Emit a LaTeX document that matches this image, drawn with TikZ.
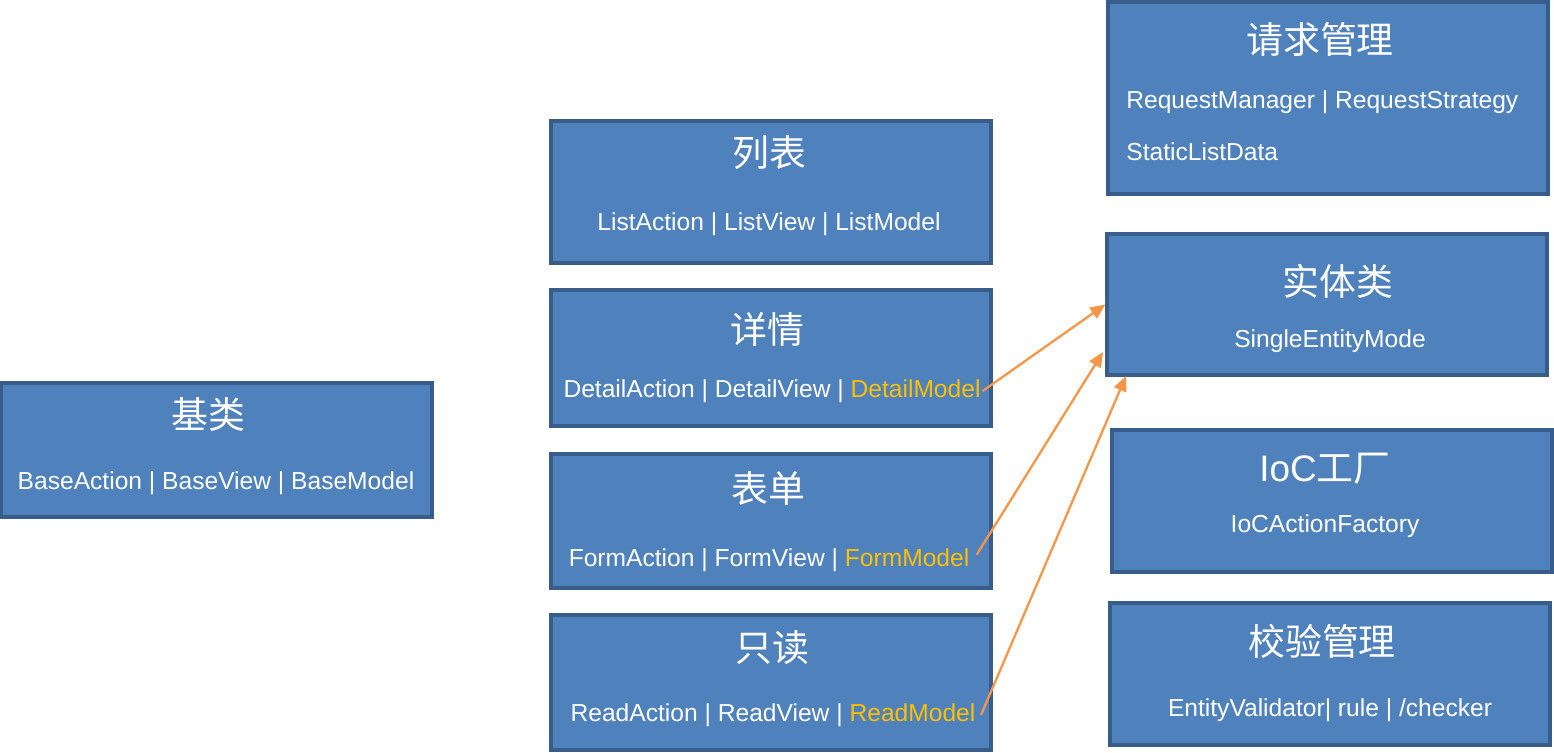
\documentclass[tikz,border=0pt]{standalone}
\usepackage{fontspec}
\setmainfont{Liberation Sans}
\newfontfamily\cjk{Noto Sans CJK SC}
\usepackage{tikz}
\usetikzlibrary{arrows.meta}

\definecolor{boxfill}{HTML}{4F81BD}
\definecolor{boxline}{HTML}{385D8A}
\definecolor{hl}{HTML}{FFC000}
\definecolor{linkc}{HTML}{F79646}

\tikzset{
  box/.style={draw=boxline, fill=boxfill, line width=2pt, inner sep=0pt},
  title/.style={text=white, inner sep=0pt, font=\fontsize{21}{25}\selectfont\cjk},
  body/.style={text=white, inner sep=0pt, font=\fontsize{14}{17}\selectfont},
  link/.style={draw=linkc, line width=1.3pt, -{Triangle[length=0.3cm, width=0.26cm]}}
}

\begin{document}
\begin{tikzpicture}[x=0.02cm, y=-0.02cm]
\useasboundingbox (0,0) rectangle (1554,752);

% boxes
\node[box, minimum width=8.62cm, minimum height=2.68cm] (base) at (216.5,450) {};
\node[box, minimum width=8.8cm, minimum height=2.84cm] (list) at (771,192) {};
\node[box, minimum width=8.8cm, minimum height=2.72cm] (detail) at (771,358) {};
\node[box, minimum width=8.8cm, minimum height=2.68cm] (form) at (771,521) {};
\node[box, minimum width=8.8cm, minimum height=2.7cm] (read) at (771,682.5) {};
\node[box, minimum width=8.8cm, minimum height=3.84cm] (request) at (1328,98) {};
\node[box, minimum width=8.8cm, minimum height=2.82cm] (entity) at (1327,304.5) {};
\node[box, minimum width=8.8cm, minimum height=2.84cm] (ioc) at (1332,501) {};
\node[box, minimum width=8.8cm, minimum height=2.84cm] (check) at (1330,674) {};

% titles
\node[title] (basetitle) at (208,414) {基类};
\node[title] (listtitle) at (769,153) {列表};
\node[title] (detailtitle) at (767,329) {详情};
\node[title] (formtitle) at (768,488) {表单};
\node[title] (readtitle) at (772,648) {只读};
\node[title] (requesttitle) at (1320,39) {请求管理};
\node[title] (entitytitle) at (1338,281) {实体类};
\node[title] (ioctitle) at (1325,469) {{\fontsize{21}{25}\selectfont\rmfamily IoC}工厂};
\node[title] (checktitle) at (1322,641) {校验管理};

% bodies
\node[body] (basebody) at (216,483) {BaseAction | BaseView | BaseModel};
\node[body] (listbody) at (769,224) {ListAction | ListView | ListModel};
\node[body] (detailbody) at (772,391) {DetailAction | DetailView | \textcolor{hl}{DetailModel}};
\node[body] (formbody) at (769,560) {FormAction | FormView | \textcolor{hl}{FormModel}};
\node[body] (readbody) at (773,715) {ReadAction | ReadView | \textcolor{hl}{ReadModel}};
\node[body, anchor=west] (requestone) at (1126,102) {RequestManager | RequestStrategy};
\node[body, anchor=west] (requesttwo) at (1126,152) {StaticListData};
\node[body] (entitybody) at (1330,341) {SingleEntityMode};
\node[body] (iocbody) at (1325,526) {IoCActionFactory};
\node[body] (checkbody) at (1330,710) {EntityValidator| rule | /checker};

% links to the entity box
\coordinate (entityin) at (1103,352);
\coordinate (entitybot) at (1126,376);
\draw[link] ([xshift=1pt]detailbody.east) -- (entity.west);
\draw[link] ([xshift=4pt,yshift=3pt]formbody.east) -- (entityin);
\draw[link] ([xshift=3pt]readbody.east) -- (entitybot);
\end{tikzpicture}
\end{document}
